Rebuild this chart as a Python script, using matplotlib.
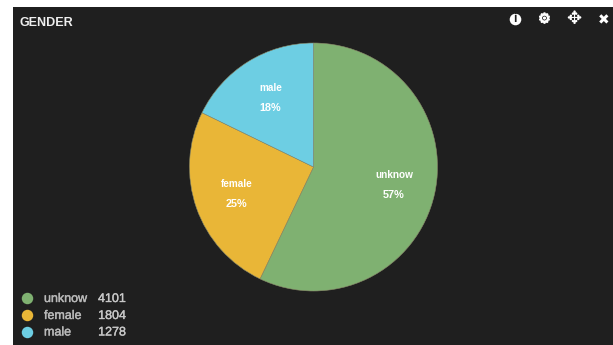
import matplotlib
matplotlib.use('Agg')
import matplotlib.pyplot as plt
import matplotlib.patheffects as pe
import numpy as np
from matplotlib.patches import Rectangle

plt.rcParams['font.family'] = ['Liberation Sans', 'DejaVu Sans']

categories = ['unknow', 'female', 'male']
counts = [4101, 1804, 1278]
colors = ['#7fb171', '#e9b637', '#6dcee3']

W, H = 613, 345
BG = '#1f1f1f'


def y_px(y):
    return H - y


fig = plt.figure(figsize=(W / 100, H / 100), dpi=100, facecolor='white')
ax = fig.add_axes([0, 0, 1, 1])

ax.add_patch(Rectangle((13, 0), W - 13, y_px(7), fc=BG, ec='none', zorder=0))

cx, cy, radius = 313.5, y_px(167), 124
ax.pie(counts, colors=colors, startangle=90, counterclock=False,
       center=(cx, cy), radius=radius, frame=True,
       wedgeprops={'linewidth': 0.4, 'edgecolor': '#8a8a6a'})

ax.set_xlim(0, W)
ax.set_ylim(0, H)
ax.set_aspect('equal')
ax.axis('off')

# slice captions sit two thirds of the way out along each mid angle
total = sum(counts)
start = 0
for name, n in zip(categories, counts):
    mid = np.radians((start + n / 2) / total * 360)
    x = cx + 0.66 * radius * np.sin(mid)
    y = cy + 0.66 * radius * np.cos(mid)
    ax.text(x + 0.5, y + 10, name, color='white', fontsize=7.2, fontweight='bold',
            ha='center', va='center')
    ax.text(x + 0.5, y - 10, '%d%%' % round(n / total * 100), color='white', fontsize=7.8,
            fontweight='bold', ha='center', va='center')
    start += n

ax.text(19, y_px(23), 'GENDER', color='#eeeeee', fontsize=9, fontweight='bold',
        ha='left', va='center')

# legend rows, thin stroke thickens the regular weight a little
thicken = [pe.withStroke(linewidth=0.3, foreground='#b8b8b8')]
legend_y = [299, 316, 332.5]
for name, n, c, ly in zip(categories, counts, colors, legend_y):
    ax.scatter([27], [y_px(ly - 1)], s=68, color=c, linewidths=0)
    ax.text(44, y_px(ly), name, color='#b8b8b8', fontsize=9,
            ha='left', va='center', path_effects=thicken)
    ax.text(126, y_px(ly), str(n), color='#c8c8c8', fontsize=9,
            ha='right', va='center', path_effects=thicken)

# panel toolbar icons
heavy = [pe.withStroke(linewidth=0.8, foreground='white')]
ax.scatter([515], [y_px(19)], s=70, color='white', linewidths=0)
ax.text(515, y_px(19), 'i', color=BG, fontsize=8.5, fontweight='bold',
        ha='center', va='center')
ax.text(544.5, y_px(19), '\u2699', color='white', fontsize=10, family='DejaVu Sans',
        ha='center', va='center', path_effects=heavy)
ax.text(574, y_px(19), '\u2725', color='white', fontsize=13, family='DejaVu Sans',
        ha='center', va='center')
ax.text(603.5, y_px(20), '\u2716', color='white', fontsize=10, family='DejaVu Sans',
        ha='center', va='center')

fig.savefig('out.png', dpi=100, facecolor='white')
